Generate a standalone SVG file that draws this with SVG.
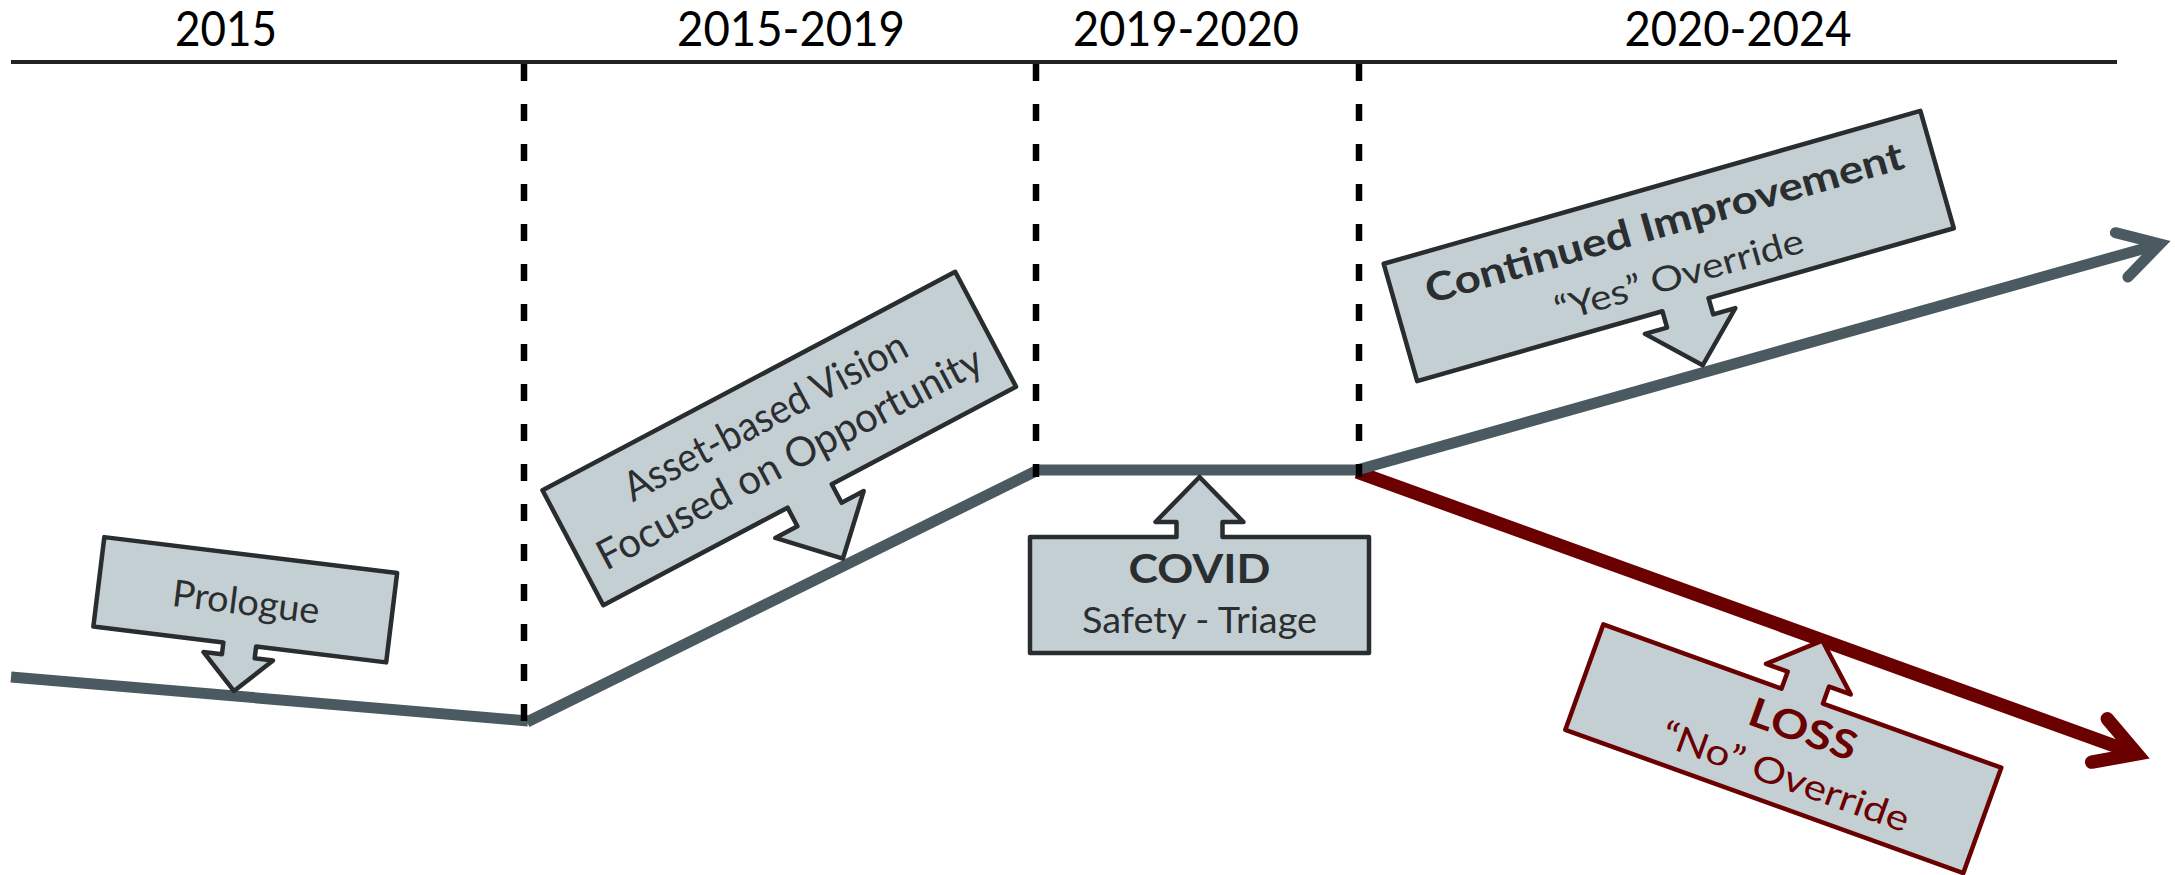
<svg xmlns="http://www.w3.org/2000/svg" width="2175" height="875" viewBox="0 0 2175 875">
<style>
.hdr{font-family:Lato,"Liberation Sans",sans-serif;font-size:48px;fill:#000;text-anchor:middle}
.box{fill:#c4cfd3;stroke:#2a2d2f;stroke-width:4.5;stroke-linejoin:round}
.box.red{stroke:#6b0000}
.t{font-family:Lato,"Liberation Sans",sans-serif;fill:#2b2e30;text-anchor:middle}
.b{font-weight:bold}
.tr{fill:#6b0000}
.gl{stroke:#4a5a60;stroke-width:11;fill:none}
.rl{stroke:#6b0000;stroke-width:13.5;fill:none}
.dash{stroke:#000;stroke-width:6.5;stroke-dasharray:17 23}
</style>
<g id="header">
<line x1="11" y1="62" x2="2117" y2="62" stroke="#222" stroke-width="4"/>
<text class="hdr" x="226" y="46" textLength="102" lengthAdjust="spacingAndGlyphs">2015</text>
<text class="hdr" x="791" y="46" textLength="228" lengthAdjust="spacingAndGlyphs">2015-2019</text>
<text class="hdr" x="1186" y="46" textLength="226" lengthAdjust="spacingAndGlyphs">2019-2020</text>
<text class="hdr" x="1738" y="46" textLength="227" lengthAdjust="spacingAndGlyphs">2020-2024</text>
</g>
<g id="connectors">
<line class="gl" x1="11" y1="677" x2="528" y2="721"/>
<line class="gl" x1="527" y1="722" x2="1036" y2="471"/>
<line class="gl" x1="1036" y1="470" x2="1358" y2="470"/>
<line class="rl" x1="1357" y1="472" x2="2137" y2="754"/>
<polyline class="rl" points="2107.3,718.8 2137,754 2091.7,762.1" stroke-linecap="round" stroke-miterlimit="10"/>
<line class="gl" x1="1357" y1="470" x2="2160" y2="244"/>
<polyline class="gl" points="2115.4,232.7 2160,244 2127.9,277" stroke-linecap="round" stroke-miterlimit="10"/>
</g>
<g id="dividers">
<line class="dash" x1="524" y1="64" x2="524" y2="721"/>
<line class="dash" x1="1036" y1="64" x2="1036" y2="477"/>
<line class="dash" x1="1359" y1="64" x2="1359" y2="477"/>
</g>
<g id="prologue" transform="translate(245.25,599.75) rotate(7)">
<path class="box" d="M-147.5,-45 L147.5,-45 L147.5,45 L16.5,45 L16.5,57 L35,57 L0,92 L-35,57 L-16.5,57 L-16.5,45 L-147.5,45 Z"/>
<text class="t" x="1" y="15" font-size="37" textLength="148" lengthAdjust="spacingAndGlyphs">Prologue</text>
</g>
<g id="asset-vision" transform="translate(779.25,438.5) rotate(-27.9)">
<path class="box" d="M-233.5,-65 L233.5,-65 L233.5,65 L25,65 L25,86 L50,86 L0,136 L-50,86 L-25,86 L-25,65 L-233.5,65 Z"/>
<text class="t" x="-2" y="-12" font-size="41" textLength="315" lengthAdjust="spacingAndGlyphs">Asset-based Vision</text>
<text class="t" x="0" y="36" font-size="41" textLength="430" lengthAdjust="spacingAndGlyphs">Focused on Opportunity</text>
</g>
<g id="covid" transform="translate(1199.5,595)">
<path class="box" d="M-169.5,58 L169.5,58 L169.5,-58 L23,-58 L23,-73 L44,-73 L0,-118 L-44,-73 L-23,-73 L-23,-58 L-169.5,-58 Z"/>
<text class="t b" x="0" y="-12" font-size="40" textLength="142" lengthAdjust="spacingAndGlyphs">COVID</text>
<text class="t" x="0" y="38" font-size="37" textLength="235" lengthAdjust="spacingAndGlyphs">Safety - Triage</text>
</g>
<g id="continued-improvement" transform="translate(1668.75,246) rotate(-15.9)">
<path class="box" d="M-279,-61 L279,-61 L279,61 L24,61 L24,78 L47,78 L0,124 L-47,78 L-24,78 L-24,61 L-279,61 Z"/>
<text class="t b" x="2" y="-10" font-size="39" textLength="496" lengthAdjust="spacingAndGlyphs">Continued Improvement</text>
<text class="t" x="2" y="43" font-size="35" textLength="257" lengthAdjust="spacingAndGlyphs">“Yes” Override</text>
</g>
<g id="loss" transform="translate(1783.3,748.75) rotate(19.8)">
<path class="box red" d="M-211.5,56 L211.5,56 L211.5,-56 L22,-56 L22,-74 L45,-74 L0,-115 L-45,-74 L-22,-74 L-22,-56 L-211.5,-56 Z"/>
<text class="t b tr" x="12" y="-11" font-size="40" textLength="112" lengthAdjust="spacingAndGlyphs">LOSS</text>
<text class="t tr" x="11.5" y="38" font-size="36" textLength="261" lengthAdjust="spacingAndGlyphs">“No” Override</text>
</g>
</svg>
